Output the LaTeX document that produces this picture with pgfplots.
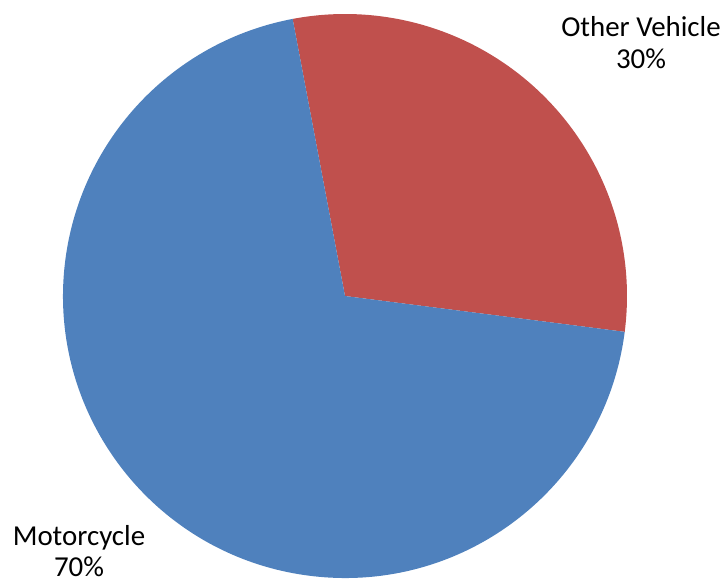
\documentclass[border=0pt]{standalone}
\usepackage{pgfplots}
\usepackage{pgfplotstable}
\pgfplotsset{compat=1.18}
\usepackage{fontspec}
\setmainfont{Carlito}
\definecolor{pieblue}{HTML}{4F81BD}
\definecolor{piered}{HTML}{C0504D}
\pgfplotstableread{
name value
Other 30
Motorcycle 70
}\piedata
\begin{document}
\begin{tikzpicture}
\useasboundingbox (0,0) rectangle (725bp,581bp);
\pgfplotstablegetelem{0}{value}\of\piedata \let\valA\pgfplotsretval
\pgfplotstablegetelem{1}{value}\of\piedata \let\valB\pgfplotsretval
\pgfmathsetmacro{\startA}{100.7}
\pgfmathsetmacro{\endA}{\startA-3.6*\valA}
\pgfmathsetmacro{\endB}{\endA-3.6*\valB}
\begin{axis}[
  at={(0,0)}, anchor=south west,
  width=725bp, height=581bp, scale only axis,
  xmin=0, xmax=725, ymin=0, ymax=581, y dir=reverse,
  hide axis, clip=false,
]
\fill[piered] (axis cs:345,296) -- ++(\startA:282bp) arc[start angle=\startA, end angle=\endA, radius=282bp] -- cycle;
\fill[pieblue] (axis cs:345,296) -- ++(\endA:282bp) arc[start angle=\endA, end angle=\endB, radius=282bp] -- cycle;
\node[anchor=base, inner sep=0pt, font=\fontsize{29}{34}\selectfont] at (axis cs:641,37) {Other Vehicle};
\node[anchor=base, inner sep=0pt, font=\fontsize{29}{34}\selectfont] at (axis cs:641,69) {\valA\%};
\node[anchor=base, inner sep=0pt, font=\fontsize{29}{34}\selectfont] at (axis cs:79,545) {Motorcycle};
\node[anchor=base, inner sep=0pt, font=\fontsize{29}{34}\selectfont] at (axis cs:79,576) {\valB\%};
\end{axis}
\end{tikzpicture}
\end{document}
